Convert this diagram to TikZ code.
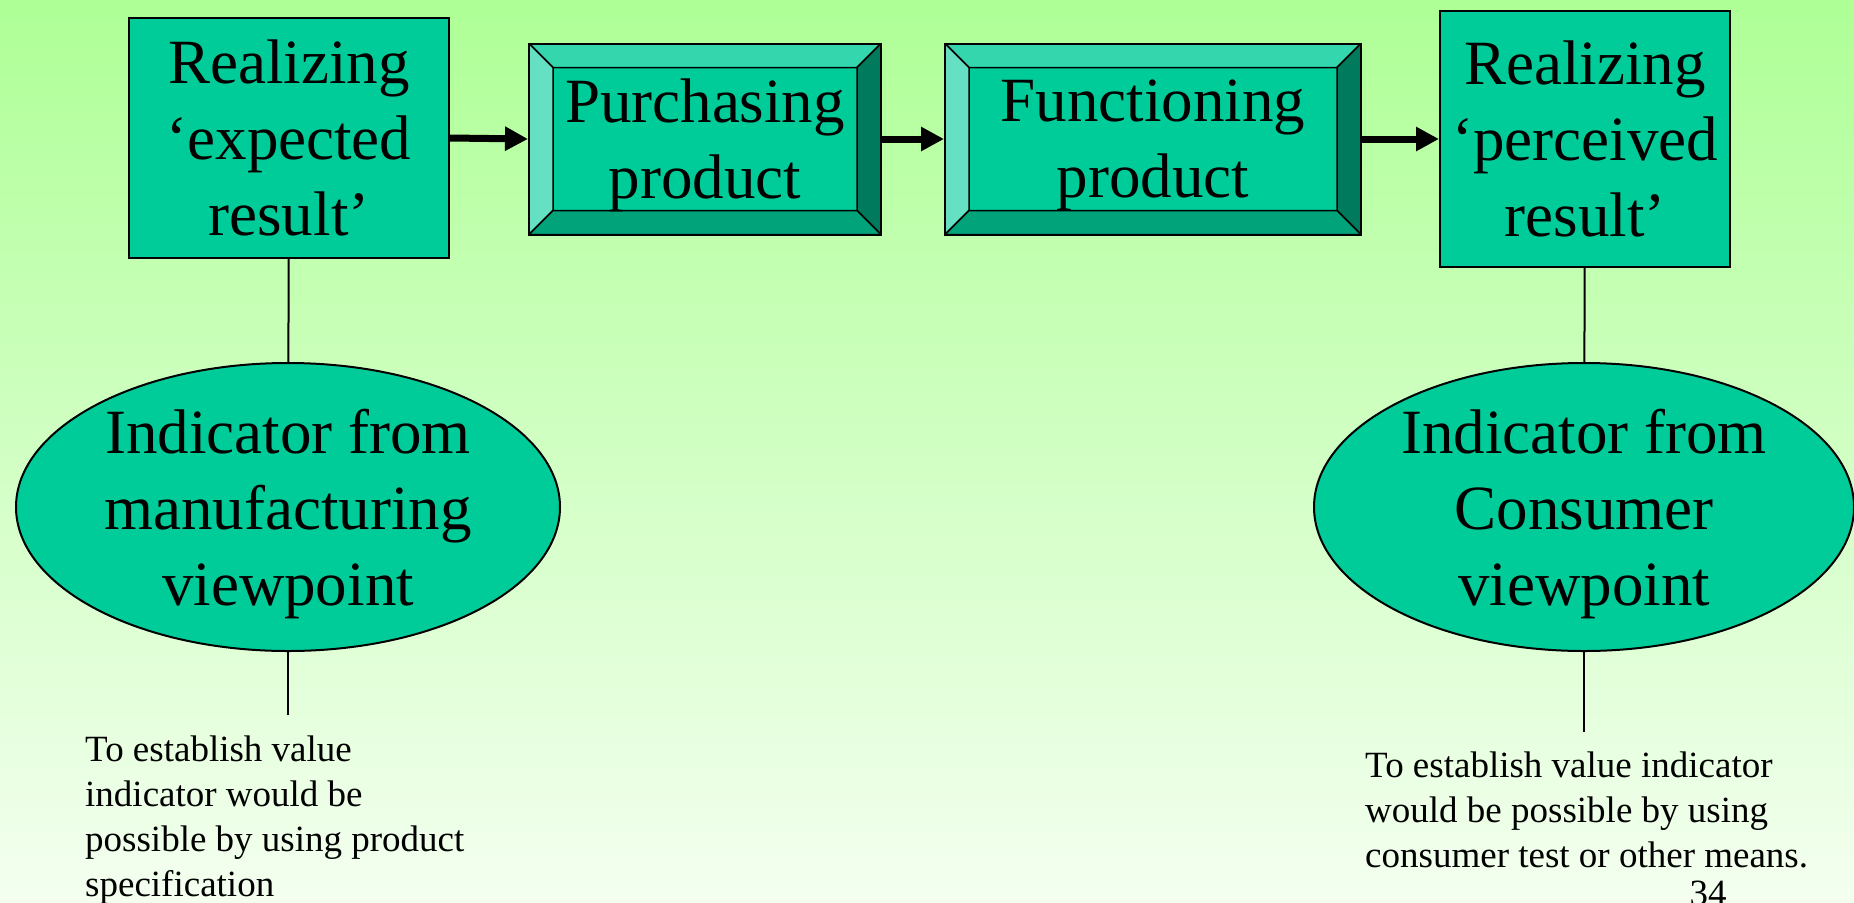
\documentclass[tikz,border=0pt]{standalone}
\usepackage{fontspec}
\setmainfont{Liberation Serif}
\usetikzlibrary{arrows.meta,shapes.geometric}

\definecolor{bgtop}{HTML}{AEFF96}
\definecolor{bgbot}{HTML}{F4FFF0}
\definecolor{boxgreen}{HTML}{00CC99}
\definecolor{bevtop}{HTML}{33D6AD}
\definecolor{bevleft}{HTML}{66E0C2}
\definecolor{bevright}{HTML}{007A5C}
\definecolor{bevbot}{HTML}{00A37A}

\tikzset{
  bigtext/.style={font=\fontsize{63}{76}\selectfont, align=center,
    text depth=0pt, inner sep=0pt},
  plainbox/.style={bigtext, rectangle, draw, line width=2pt, fill=boxgreen},
  bevelbox/.style={plainbox, path picture={
      \path (path picture bounding box.north west) coordinate (bnw)
            (path picture bounding box.north east) coordinate (bne)
            (path picture bounding box.south west) coordinate (bsw)
            (path picture bounding box.south east) coordinate (bse);
      \filldraw[fill=bevtop, line width=1.5pt] (bnw) -- (bne)
        -- ([shift={(-24pt,-24pt)}]bne) -- ([shift={(24pt,-24pt)}]bnw) -- cycle;
      \filldraw[fill=bevleft, line width=1.5pt] (bnw) -- ([shift={(24pt,-24pt)}]bnw)
        -- ([shift={(24pt,24pt)}]bsw) -- (bsw) -- cycle;
      \filldraw[fill=bevright, line width=1.5pt] (bne) -- (bse)
        -- ([shift={(-24pt,24pt)}]bse) -- ([shift={(-24pt,-24pt)}]bne) -- cycle;
      \filldraw[fill=bevbot, line width=1.5pt] (bsw) -- (bse)
        -- ([shift={(-24pt,24pt)}]bse) -- ([shift={(24pt,24pt)}]bsw) -- cycle;
    }},
  oval/.style={bigtext, ellipse, draw, line width=2pt, fill=boxgreen},
  note/.style={font=\fontsize{37}{45}\selectfont, align=left, inner sep=0pt,
    anchor=north west},
  flow/.style={line width=7pt, -{Triangle[length=23pt,width=23pt]}},
  link/.style={line width=2pt},
}

\begin{document}
\begin{tikzpicture}[x=1pt, y=-1pt]
  \useasboundingbox (0,0) rectangle (1854,902);
  \fill[top color=bgtop, bottom color=bgbot] (0,0) rectangle (1854,902);

  \node[plainbox, minimum width=320, minimum height=240] (exp) at (289,138)
    {Realizing\\‘expected\\result’};
  \node[bevelbox, minimum width=352, minimum height=191] (pur) at (705,139)
    {Purchasing\\product};
  \node[bevelbox, minimum width=416, minimum height=191] (fun) at (1153,139)
    {Functioning\\product};
  \node[plainbox, minimum width=290, minimum height=256] (per) at (1585,139)
    {Realizing\\‘perceived\\result’};

  \node[oval, minimum width=544, minimum height=288] (manu) at (288,507)
    {Indicator from\\manufacturing\\viewpoint};
  \node[oval, minimum width=540, minimum height=288] (cons) at (1584,507)
    {Indicator from\\Consumer\\viewpoint};

  \coordinate (manuend) at (288,715);
  \coordinate (consend) at (1584,732);

  \node[note] (manunote) at (85,735.7)
    {To establish value\\indicator would be\\possible by using product\\specification};
  \node[note] (consnote) at (1365,751.7)
    {To establish value indicator\\would be possible by using\\consumer test or other means.};
  \node[font=\fontsize{37}{45}\selectfont, inner sep=0pt, anchor=base] (page) at (1708,905) {34};

  \draw[flow] (exp.east) -- (pur.west);
  \draw[flow] (pur.east) -- (fun.west);
  \draw[flow] (fun.east) -- (per.west);

  \draw[link] (exp) -- (manu);
  \draw[link] (manu.south) -- (manuend);
  \draw[link] (per) -- (cons);
  \draw[link] (cons.south) -- (consend);
\end{tikzpicture}
\end{document}
